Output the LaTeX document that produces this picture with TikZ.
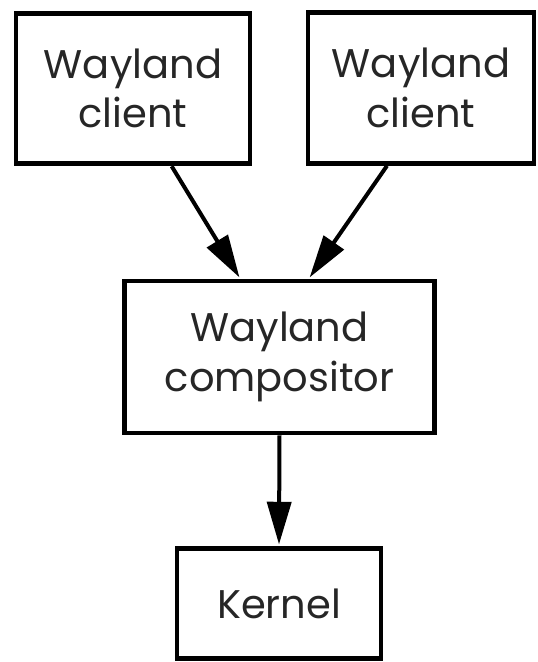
\documentclass[tikz,border=0pt]{standalone}
\usepackage{fontspec}
\setmainfont{Poppins}
\usepackage{tikz}
\usetikzlibrary{arrows.meta,positioning}

\begin{document}
\begin{tikzpicture}[x=0.75pt,y=-0.75pt,>={Triangle[length=32pt,width=18pt]},
    blockbox/.style={draw,line width=3.6pt,align=center,inner sep=0pt,
        text=black!85,font=\fontsize{30}{37}\selectfont},
    flow/.style={->,line width=3pt,shorten >=1pt}]
    \useasboundingbox (0,0) rectangle (537,662);

    % the two clients
    \node[blockbox,minimum width=175.5pt,minimum height=113pt] (cl) at (133,88.5) {Wayland\\client};
    \node[blockbox,minimum width=169.5pt,minimum height=113pt] (cr) at (421,88) {Wayland\\client};

    % compositor and kernel
    \node[blockbox,minimum width=233pt,minimum height=114pt] (comp) at (279.5,357) {Wayland\\compositor};
    \node[blockbox,minimum width=153pt,minimum height=83pt] (kern) at (279,603.5) {Kernel};

    \draw[flow] ([xshift=29pt]cl.south) -- ([xshift=-29.5pt]comp.north);
    \draw[flow] ([xshift=-25.5pt]cr.south) -- ([xshift=22pt]comp.north);
    \draw[flow] (comp.south) -- (kern.north);
\end{tikzpicture}
\end{document}
